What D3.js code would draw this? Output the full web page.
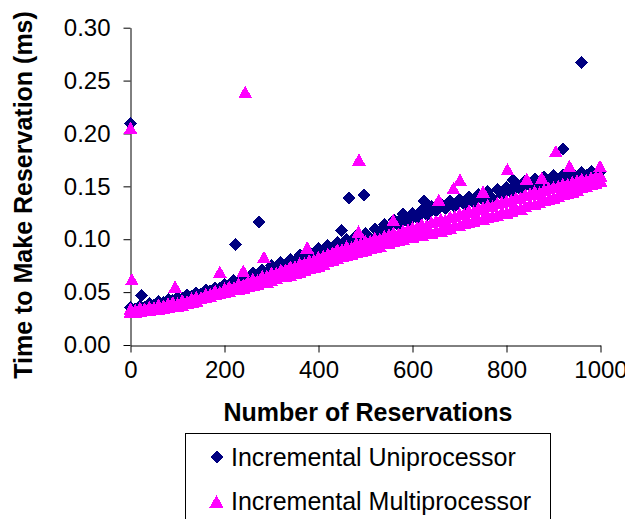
<!DOCTYPE html>
<html>
<head>
<meta charset="utf-8">
<script src="https://cdn.jsdelivr.net/npm/d3@7"></script>
<style>
  body { margin: 0; background: #fff; }
  svg text { font-family: Arial, "Liberation Sans", sans-serif; fill: #000; }
</style>
</head>
<body>
<svg width="625" height="519"></svg>
<script>
// number of reservations (x) for the dense band
var reservations = [0, 10, 20, 30, 40, 50, 60, 70, 80, 90, 100, 110, 120, 130, 140, 150, 160, 170, 180, 190,
    200, 210, 220, 230, 240, 250, 260, 270, 280, 290, 300, 310, 320, 330, 340, 350, 360, 370, 380, 390,
    400, 410, 420, 430, 440, 450, 460, 470, 480, 490, 500, 510, 520, 530, 540, 550, 560, 570, 580, 590,
    600, 610, 620, 630, 640, 650, 660, 670, 680, 690, 700, 710, 720, 730, 740, 750, 760, 770, 780, 790,
    800, 810, 820, 830, 840, 850, 860, 870, 880, 890, 900, 910, 920, 930, 940, 950, 960, 970, 980, 990, 1000];

// Incremental Uniprocessor, time in ms
var uniTimes = [0.035, 0.034, 0.037, 0.036, 0.039, 0.038, 0.041, 0.040, 0.043, 0.042, 0.045, 0.044, 0.047, 0.046, 0.049, 0.048, 0.052, 0.051, 0.054, 0.054,
    0.057, 0.055, 0.061, 0.058, 0.064, 0.062, 0.068, 0.066, 0.071, 0.069, 0.075, 0.072, 0.078, 0.076, 0.081, 0.079, 0.085, 0.082, 0.088, 0.085,
    0.091, 0.088, 0.094, 0.092, 0.097, 0.095, 0.100, 0.097, 0.103, 0.099, 0.105, 0.101, 0.110, 0.106, 0.114, 0.110, 0.118, 0.113, 0.121, 0.116,
    0.124, 0.120, 0.128, 0.123, 0.131, 0.127, 0.134, 0.129, 0.136, 0.131, 0.138, 0.133, 0.140, 0.135, 0.142, 0.137, 0.145, 0.139, 0.147, 0.142,
    0.149, 0.144, 0.152, 0.147, 0.155, 0.150, 0.157, 0.151, 0.159, 0.153, 0.160, 0.155, 0.161, 0.156, 0.162, 0.159, 0.163, 0.160, 0.164, 0.161, 0.164];

// Incremental Multiprocessor, lower and upper runs of the band
var multiTimesLow = [0.031, 0.031, 0.032, 0.033, 0.033, 0.034, 0.034, 0.035, 0.036, 0.037, 0.037, 0.038, 0.040, 0.041, 0.042, 0.044, 0.045, 0.046, 0.048, 0.049,
    0.050, 0.051, 0.053, 0.053, 0.054, 0.056, 0.057, 0.058, 0.060, 0.060, 0.061, 0.063, 0.065, 0.065, 0.066, 0.068, 0.069, 0.071, 0.073, 0.074,
    0.075, 0.077, 0.079, 0.080, 0.082, 0.084, 0.085, 0.086, 0.088, 0.089, 0.090, 0.092, 0.093, 0.094, 0.096, 0.096, 0.098, 0.099, 0.100, 0.102,
    0.102, 0.104, 0.104, 0.106, 0.106, 0.108, 0.108, 0.110, 0.111, 0.113, 0.113, 0.115, 0.116, 0.117, 0.119, 0.119, 0.121, 0.122, 0.123, 0.125,
    0.125, 0.127, 0.129, 0.129, 0.131, 0.133, 0.133, 0.135, 0.137, 0.138, 0.139, 0.141, 0.143, 0.144, 0.145, 0.147, 0.149, 0.150, 0.152, 0.153, 0.155];
var multiTimesHigh = [0.034, 0.033, 0.035, 0.034, 0.036, 0.035, 0.038, 0.037, 0.039, 0.040, 0.039, 0.042, 0.041, 0.044, 0.045, 0.045, 0.048, 0.048, 0.051, 0.050,
    0.053, 0.055, 0.054, 0.058, 0.057, 0.060, 0.062, 0.061, 0.065, 0.065, 0.068, 0.068, 0.071, 0.071, 0.074, 0.074, 0.077, 0.077, 0.080, 0.080,
    0.083, 0.084, 0.086, 0.087, 0.090, 0.090, 0.093, 0.092, 0.096, 0.096, 0.098, 0.098, 0.101, 0.100, 0.103, 0.104, 0.106, 0.105, 0.108, 0.109,
    0.111, 0.111, 0.114, 0.113, 0.116, 0.117, 0.119, 0.118, 0.121, 0.122, 0.124, 0.124, 0.127, 0.126, 0.129, 0.130, 0.132, 0.131, 0.134, 0.135,
    0.136, 0.137, 0.139, 0.139, 0.142, 0.143, 0.145, 0.144, 0.147, 0.148, 0.149, 0.150, 0.152, 0.152, 0.154, 0.155, 0.157, 0.156, 0.158, 0.159, 0.160];

// stray measurements [reservations, ms]
var uniOutliers = [[0, 0.209], [23, 0.047], [224, 0.095], [273, 0.116], [449, 0.108], [464, 0.139], [497, 0.142],
    [580, 0.124], [624, 0.136], [814, 0.156], [920, 0.185], [960, 0.267]];
var multiOutliers = [[0, 0.205], [3, 0.062], [95, 0.055], [190, 0.069], [240, 0.070], [244, 0.239], [284, 0.083],
    [376, 0.092], [485, 0.107], [486, 0.175], [559, 0.118], [656, 0.137], [687, 0.148], [701, 0.156], [750, 0.145],
    [802, 0.166], [843, 0.157], [875, 0.158], [905, 0.183], [934, 0.169], [999, 0.169]];

var xTicks = [0, 200, 400, 600, 800, 1000];
var yTicks = [0, 0.05, 0.10, 0.15, 0.20, 0.25, 0.30];
var seriesNames = ['Incremental Uniprocessor', 'Incremental Multiprocessor'];
var seriesColors = ['#000080', '#ff00ff'];

var svg = d3.select('svg');

var xScale = d3.scaleLinear().domain([0, 1000]).range([130.5, 600.5]);
var yScale = d3.scaleLinear().domain([0, 0.30]).range([345, 27.7]);

var diamond = 'M0,-6.5L6.5,0L0,6.5L-6.5,0Z';
var triangle = 'M0,-6.5L7,6L-7,6Z';
var shapes = [diamond, triangle];

// axes
var yAxis = d3.axisLeft(yScale).tickValues(yTicks).tickFormat(d3.format('.2f'))
    .tickSize(7).tickSizeOuter(0).tickPadding(13);
var xAxis = d3.axisBottom(xScale).tickValues(xTicks).tickFormat(d3.format('d'))
    .tickSize(7).tickSizeOuter(0).tickPadding(8);

var yG = svg.append('g').attr('transform', 'translate(130.5,0)').call(yAxis);
var xG = svg.append('g').attr('transform', 'translate(0,345.5)').call(xAxis);
[yG, xG].forEach(function (g) {
    g.attr('font-family', null).attr('font-size', null);
    g.selectAll('text').style('font-size', '24px');
    g.selectAll('line, path').attr('stroke', '#000');
});

// points
function pairs(xs, ys) {
    return xs.map(function (x, i) { return [x, ys[i]]; });
}
var uniPoints = pairs(reservations, uniTimes).concat(uniOutliers);
var multiPoints = pairs(reservations, multiTimesLow)
    .concat(pairs(reservations, multiTimesHigh))
    .concat(multiOutliers);

[uniPoints, multiPoints].forEach(function (pts, s) {
    svg.append('g').selectAll('path')
        .data(pts)
        .enter()
        .append('path')
        .attr('d', shapes[s])
        .attr('fill', seriesColors[s])
        .attr('shape-rendering', 'crispEdges')
        .attr('transform', function (d) {
            return 'translate(' + [xScale(d[0]), yScale(d[1])] + ')';
        });
});

// axis titles
svg.append('text')
    .attr('x', 368).attr('y', 421)
    .attr('text-anchor', 'middle')
    .style('font-size', '25px').style('font-weight', 'bold')
    .text('Number of Reservations');

svg.append('text')
    .attr('transform', 'translate(32,195) rotate(-90)')
    .attr('text-anchor', 'middle')
    .style('font-size', '25px').style('font-weight', 'bold')
    .text('Time to Make Reservation (ms)');

// legend
var legend = svg.append('g');
legend.append('rect')
    .attr('x', 185.5).attr('y', 433.5)
    .attr('width', 365).attr('height', 120)
    .attr('fill', '#fff').attr('stroke', '#000');

seriesNames.forEach(function (name, i) {
    var cy = 457 + i * 44.5;
    legend.append('path')
        .attr('d', shapes[i])
        .attr('fill', seriesColors[i])
        .attr('shape-rendering', 'crispEdges')
        .attr('transform', 'translate(' + [216.5, cy] + ')');
    legend.append('text')
        .attr('x', 231).attr('y', cy + 8.5)
        .style('font-size', '25px')
        .text(name);
});
</script>
</body>
</html>
